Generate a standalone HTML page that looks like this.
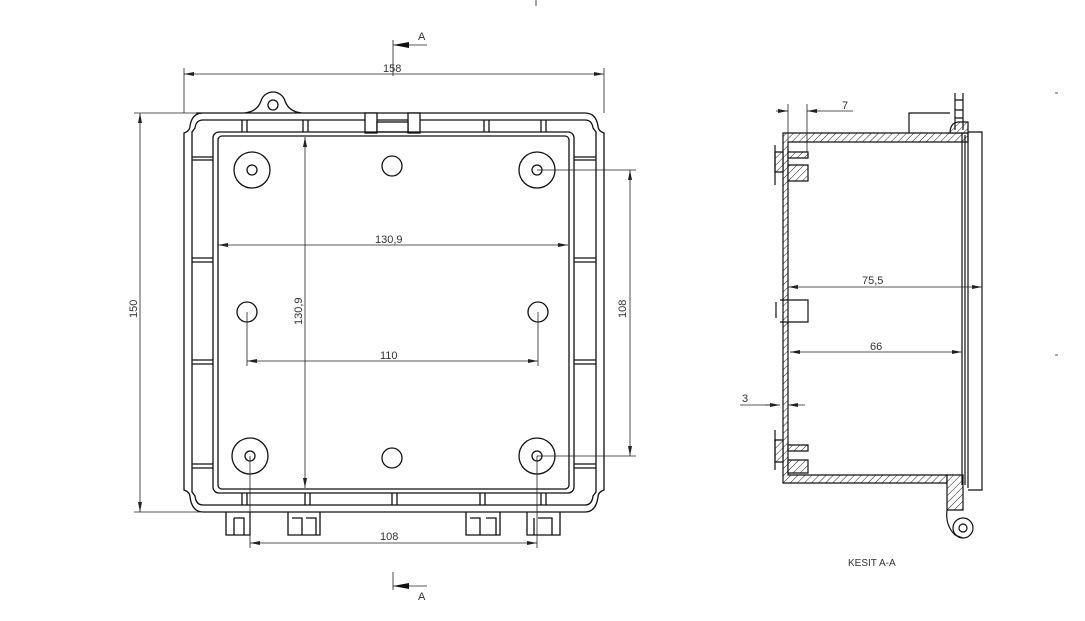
<!DOCTYPE html>
<html><head><meta charset="utf-8"><style>
html,body{margin:0;padding:0;background:#fff;}
svg{display:block;}
text{font-family:"Liberation Sans",sans-serif;font-size:11px;fill:#333;}
</style></head><body>
<svg width="1085" height="621" viewBox="0 0 1085 621" xmlns="http://www.w3.org/2000/svg">
<defs>
<pattern id="h" width="5" height="5" patternUnits="userSpaceOnUse" patternTransform="rotate(45)">
<rect width="5" height="5" fill="#fff"/><line x1="0" y1="0" x2="0" y2="5" stroke="#222" stroke-width="1"/></pattern>
<marker id="ar" markerWidth="10" markerHeight="6" refX="10" refY="3" orient="auto-start-reverse" markerUnits="userSpaceOnUse">
<path d="M0,1 L10,3 L0,5 z" fill="#222"/></marker>
<marker id="ab" markerWidth="16" markerHeight="8" refX="16" refY="4" orient="auto-start-reverse" markerUnits="userSpaceOnUse">
<path d="M0,1 L16,4 L0,7 z" fill="#111"/></marker>
</defs>
<g fill="none" stroke="#111" stroke-width="1.3">
<!-- outer body -->
<path d="M196,113 L244,113 Q257,112 261,101 A12.5,12.5 0 0 1 285,101 Q289,112 302,113 L366,113 M420,113 L585,113 Q596,113 598,126 Q598,131 604,133 L604,490 Q598,492 598,497 Q596,512 585,512 L203,512 Q192,512 190,497 Q190,492 184,490 L184,133 Q190,131 190,126 Q192,113 203,113 Z"/>
<circle cx="273" cy="105" r="5"/>
<path d="M203,120 L585,120 Q592,120 593,128 L596,132 L596,492 L593,496 Q592,505 585,505 L203,505 Q196,505 195,496 L192,492 L192,132 L195,128 Q196,120 203,120 Z"/>
<!-- notch -->
<rect x="365" y="113" width="12" height="20" fill="#fff"/><rect x="408" y="113" width="12" height="20" fill="#fff"/>
<rect x="377" y="122" width="31" height="10" fill="#fff"/>
<!-- inner rim -->
<rect x="213" y="132" width="361" height="361" rx="6"/>
<rect x="218" y="136" width="351" height="353" rx="4"/>
<!-- top/bottom ribs -->
<path d="M242,120 V132 M247,120 V132 M303,120 V132 M308,120 V132 M484,120 V132 M489,120 V132 M541,120 V132 M546,120 V132"/>
<path d="M242,493 V505 M247,493 V505 M305,493 V505 M310,493 V505 M392,493 V505 M397,493 V505 M480,493 V505 M485,493 V505 M541,493 V505 M546,493 V505"/>
<!-- side ribs -->
<path d="M192,157 H213 M192,160 H213 M192,258 H213 M192,262 H213 M192,360 H213 M192,364 H213 M192,464 H213 M192,468 H213"/>
<path d="M574,157 H596 M574,160 H596 M574,258 H596 M574,262 H596 M574,360 H596 M574,364 H596 M574,464 H596 M574,468 H596"/>
<!-- bosses -->
<circle cx="252" cy="170" r="18"/><circle cx="252" cy="170" r="5"/>
<circle cx="537" cy="170" r="18"/><circle cx="537" cy="170" r="5"/>
<circle cx="250" cy="456" r="18"/><circle cx="250" cy="456" r="5"/>
<circle cx="537" cy="456" r="18"/><circle cx="537" cy="456" r="5"/>
<circle cx="392" cy="166" r="10"/><circle cx="247" cy="312" r="10"/>
<circle cx="538" cy="312" r="10"/><circle cx="392" cy="458" r="10"/>
<!-- bottom tabs -->
<path d="M226,512 V535 H250 V512 M234,518 H244 V535 M234,518 V535"/>
<path d="M288,512 V535 H320 V512 M292,518 H302 V535 M306,518 H316 V535"/>
<path d="M466,512 V535 H500 V512 M470,518 H480 V535 M486,518 H496 V535"/>
<path d="M527,512 V535 H560 V512 M538,518 H552 V535 M534,518 V535"/>
</g>
<!-- dimensions front -->
<g stroke="#222" stroke-width="0.8" fill="none">
<path d="M184,113 V68 M604,113 V68"/>
<line x1="184" y1="74" x2="604" y2="74" marker-start="url(#ar)" marker-end="url(#ar)"/>
<path d="M196,113 H134 M203,512 H134"/>
<line x1="140" y1="113" x2="140" y2="512" marker-start="url(#ar)" marker-end="url(#ar)"/>
<line x1="218" y1="245" x2="568" y2="245" marker-start="url(#ar)" marker-end="url(#ar)"/>
<line x1="305" y1="137" x2="305" y2="488" marker-start="url(#ar)" marker-end="url(#ar)"/>
<path d="M247,312 V366 M538,312 V366"/>
<line x1="247" y1="361" x2="538" y2="361" marker-start="url(#ar)" marker-end="url(#ar)"/>
<path d="M537,170 H636 M537,456 H636"/>
<line x1="630" y1="170" x2="630" y2="456" marker-start="url(#ar)" marker-end="url(#ar)"/>
<path d="M250,456 V548 M537,456 V548"/>
<line x1="250" y1="543" x2="537" y2="543" marker-start="url(#ar)" marker-end="url(#ar)"/>
<!-- section marks -->
<path d="M393,40 V76 M393,572 V590"/>
<line x1="427" y1="45" x2="393" y2="45" marker-end="url(#ab)"/>
<line x1="427" y1="586" x2="393" y2="586" marker-end="url(#ab)"/>
<path d="M536,0 V6 M1055,355 H1058 M1055,93 H1058"/>
</g>
<text x="383" y="72">158</text>
<text x="375" y="243">130,9</text>
<text x="380" y="359">110</text>
<text x="380" y="540">108</text>
<text x="418" y="40">A</text>
<text x="418" y="600">A</text>
<text transform="translate(137,318) rotate(-90)">150</text>
<text transform="translate(302,325) rotate(-90)">130,9</text>
<text transform="translate(626,318) rotate(-90)">108</text>
<!-- section view -->
<g stroke="#111" stroke-width="1.2">
<path fill="url(#h)" d="M783,133 H968 V142 H788 V475 H947 V483 H783 Z"/>
<path fill="url(#h)" d="M947,475 H963 V510 H947 Z"/>
<path fill="url(#h)" d="M950,133 Q950,123 958,122 H968 V133 Z"/>
<path fill="url(#h)" d="M775,152 H783 V172 H775 Z M788,152 H808 V158 H788 Z M788,165 H808 V181 H788 Z"/>
<path fill="url(#h)" d="M775,440 H783 V462 H775 Z M788,445 H808 V451 H788 Z M788,460 H808 V473 H788 Z"/>
<path fill="none" d="M775,145 V185 M775,430 V470 M780,300 H808 V322 H780 M776,302 V318"/>
<path fill="none" d="M962,133 V485 M965,135 V485 M968,133 V488 M968,132 H982 V490 H968"/>
<path fill="none" d="M909,133 V113 H950 M955,93 V130 M963,93 V130 M955,100 H963 M955,110 H963 M955,118 H963"/>
<path fill="none" d="M947,510 Q945,525 955,535 L963,538"/>
<circle cx="963" cy="528" r="10" fill="none"/><circle cx="963" cy="528" r="4" fill="none"/>
</g>
<g stroke="#222" stroke-width="0.8" fill="none">
<path d="M788,104 V142 M807,104 V152"/>
<line x1="776" y1="111" x2="788" y2="111" marker-end="url(#ar)"/>
<line x1="820" y1="111" x2="807" y2="111" marker-end="url(#ar)"/>
<path d="M820,111 H853"/>
<line x1="788" y1="287" x2="982" y2="287" marker-start="url(#ar)" marker-end="url(#ar)"/>
<line x1="790" y1="352" x2="962" y2="352" marker-start="url(#ar)" marker-end="url(#ar)"/>
<path d="M740,405 H775"/>
<line x1="765" y1="405" x2="780" y2="405" marker-end="url(#ar)"/>
<line x1="805" y1="405" x2="788" y2="405" marker-end="url(#ar)"/>
</g>
<text x="842" y="109">7</text>
<text x="862" y="284">75,5</text>
<text x="870" y="350">66</text>
<text x="742" y="402">3</text>
<text x="848" y="566" style="font-size:10px">KESIT A-A</text>
</svg>
</body></html>
